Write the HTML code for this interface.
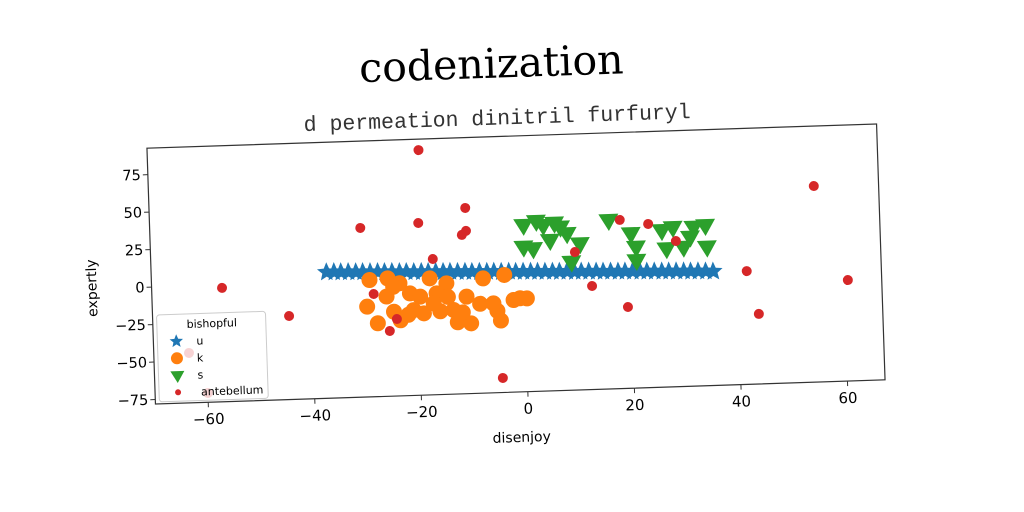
<!DOCTYPE html>
<html><head><meta charset="utf-8"><style>
html,body{margin:0;padding:0;background:#fff;}
svg{display:block;}
text{font-family:"DejaVu Sans","Liberation Sans",sans-serif;}
</style></head><body>
<svg id="chart" width="1024" height="512" viewBox="0 0 1024 512" xmlns="http://www.w3.org/2000/svg">
<rect x="0" y="0" width="1024" height="512" fill="#fff"/>
<g id="rot" transform="rotate(-1.9 516 264)">
<text x="498" y="77" text-anchor="middle" font-size="41" style="font-family:'DejaVu Serif','Liberation Serif',serif">codenization</text>
<text x="502" y="124" text-anchor="middle" font-size="21.5" style="font-family:'Liberation Mono','DejaVu Sans Mono',monospace" fill="#333">d permeation dinitril furfuryl</text>
<rect x="151" y="136" width="730" height="256" fill="#fff" stroke="#333" stroke-width="1.2"/>
<g id="ticks"></g>
<g id="marks"></g>
<text x="516" y="442" text-anchor="middle" font-size="14">disenjoy</text>
<text x="96" y="274" text-anchor="middle" font-size="14" transform="rotate(-90 96 274)">expertly</text>
<g id="legend"></g>
</g>
</svg>
<script>
const xTicks=[-60,-40,-20,0,20,40,60];
const yTicks=[-75,-50,-25,0,25,50,75];
const starX=[-37,-35.6,-34.3,-32.9,-31.5,-30.2,-28.8,-27.4,-26.1,-24.7,-23.3,-22,-20.6,-19.2,-17.9,-16.5,-15.1,-13.8,-12.4,-11,-9.7,-8.3,-6.9,-5.6,-4.2,-2.8,-1.5,-0.1,1.3,2.6,4,5.4,6.7,8.1,9.5,10.8,12.2,13.6,14.9,16.3,17.7,19,20.4,21.8,23.1,24.5,25.9,27.2,28.6,30,31.3,32.7,34.1,35.5];
const starY=[6.1,6,5.8,5.7,5.5,5.4,5.2,5.1,4.9,4.8,4.6,4.5,4.3,4.2,4,3.9,3.7,3.6,3.4,3.3,3.1,3,2.8,2.7,2.5,2.4,2.2,2.1,1.9,1.8,1.6,1.5,1.3,1.2,1,0.9,0.7,0.6,0.4,0.3,0.1,0,-0.2,-0.3,-0.5,-0.6,-0.8,-0.9,-1.1,-1.2,-1.4,-1.5,-1.7,-2];
const orangeX=[-29,-25.6,-23.4,-17.7,-14.6,-7.7,-3.7,-0.9,-29.6,-27.7,-24.6,-23.4,-21.5,-19.6,-20.9,-19,-16.5,-15.9,-13.4,-12.7,-10.9,-10.2,-8.4,-5.2,-4.6,-2.1,0.4,-25.9,-17.1,-24.6,-5.9,-14.4,-21.9,-11.7];
const orangeY=[-0.1,0.6,-2.9,-0.3,-4,-1.5,0.3,-15.6,-17.8,-29.1,-21.8,-27.6,-9.9,-12.3,-21.1,-23.5,-10.5,-22.5,-21.9,-30.2,-13.3,-31.2,-18.4,-23.5,-30,-16.6,-15.8,-11.5,-17.1,-5.1,-18.4,-13.1,-24.1,-23.7];
const greenX=[0.2,3.9,7.1,8.3,0.1,1.9,5.1,10.7,9,16.2,20.3,21.2,21.2,26.1,26.9,30.1,32.1,34.3,34.5,31.4,2.6,6,28.2];
const greenY=[33.2,32.7,31.2,26.7,18.7,17.4,22.6,19.7,7.7,34.6,25.3,16.2,7.3,26.7,14.5,15.1,28.3,29.1,14.7,21.7,35.6,34,28.5];
const redX=[-19,-10.6,-19.5,-30.4,-10.6,-11.4,-17,-56.7,-28.3,-44.3,-24.1,-25.5,-4.6,9.7,12.7,18.3,23.6,28.7,19.3,41.8,43.8,54.9,60.7,-63.3,-60];
const redY=[85.4,45.8,36.8,34.8,30.5,27.9,12.5,-2.1,-9.5,-22.3,-26.7,-34.5,-68.3,14,-9,34.4,31.1,19.1,-23.8,-2.5,-31.3,52.7,-10.7,-44.7,-71.8];

const NS='http://www.w3.org/2000/svg';
const xs=v=>523.6+v*5.33;
const ys=v=>275-v*1.5;
function mk(tag,attrs,parent){const e=document.createElementNS(NS,tag);for(const k in attrs)e.setAttribute(k,attrs[k]);parent.appendChild(e);return e;}
const T=document.getElementById('ticks');
xTicks.forEach(v=>{
  const l=mk('line',{x1:xs(v),x2:xs(v),y1:392,y2:397,stroke:'#333'},T);
  
  
  const t=mk('text',{x:xs(v),y:414,'text-anchor':'middle','font-size':15},T);
  
  
  t.textContent=v<0?'\u2212'+(-v):String(v);
});
yTicks.forEach(v=>{
  const l=mk('line',{x1:146,x2:151,y1:ys(v),y2:ys(v),stroke:'#333'},T);
  
  
  const t=mk('text',{x:144,y:ys(v)+5,'text-anchor':'end','font-size':14.5},T);
  
  
  t.textContent=v<0?'\u2212'+(-v):String(v);
});
function starPath(cx,cy,R){let d='';for(let i=0;i<10;i++){const r=i%2?R*0.45:R;const a=-Math.PI/2+i*Math.PI/5;d+=(i?'L':'M')+(cx+r*Math.cos(a)).toFixed(1)+' '+(cy+r*Math.sin(a)).toFixed(1);}return d+'Z';}
function triPath(cx,cy,s){return `M${cx-s} ${cy-s*0.6}L${cx+s} ${cy-s*0.6}L${cx} ${cy+s*1.1}Z`;}
const M=document.getElementById('marks');
starX.forEach((v,i)=>{
  const p=mk('path',{d:starPath(xs(v),ys(starY[i]),10),fill:'#1f77b4'},M);
  
  
});
orangeX.forEach((v,i)=>{
  const c=mk('circle',{cx:xs(v),cy:ys(orangeY[i]),r:8,fill:'#ff7f0e'},M);
  
  
});
greenX.forEach((v,i)=>{
  const p=mk('path',{d:triPath(xs(v),ys(greenY[i]),10),fill:'#2ca02c'},M);
  
  
});
redX.forEach((v,i)=>{
  const c=mk('circle',{cx:xs(v),cy:ys(redY[i]),r:5,fill:'#d62728'},M);
  
  
});
const L=document.getElementById('legend');
const box=mk('rect',{x:155,y:303,width:109,height:87,rx:3,fill:'#fff','fill-opacity':0.8,stroke:'#ccc'},L);


const lt=mk('text',{x:210,y:317,'text-anchor':'middle','font-size':11},L);


lt.textContent='bishopful';
const entries=['u','k','s','antebellum'];
entries.forEach((name,i)=>{
  const y=330+i*17;
  let m;
  if(i===0)m=mk('path',{d:starPath(174,y,7),fill:'#1f77b4'},L);
  else if(i===1)m=mk('circle',{cx:174,cy:y,r:6,fill:'#ff7f0e'},L);
  else if(i===2)m=mk('path',{d:triPath(174,y,7),fill:'#2ca02c'},L);
  else m=mk('circle',{cx:174,cy:y,r:3,fill:'#d62728'},L);
  
  
  const t=mk('text',{x:i===3?197:194,y:y+4,'font-size':11},L);
  
  
  t.textContent=name;
});
</script>
</body></html>
